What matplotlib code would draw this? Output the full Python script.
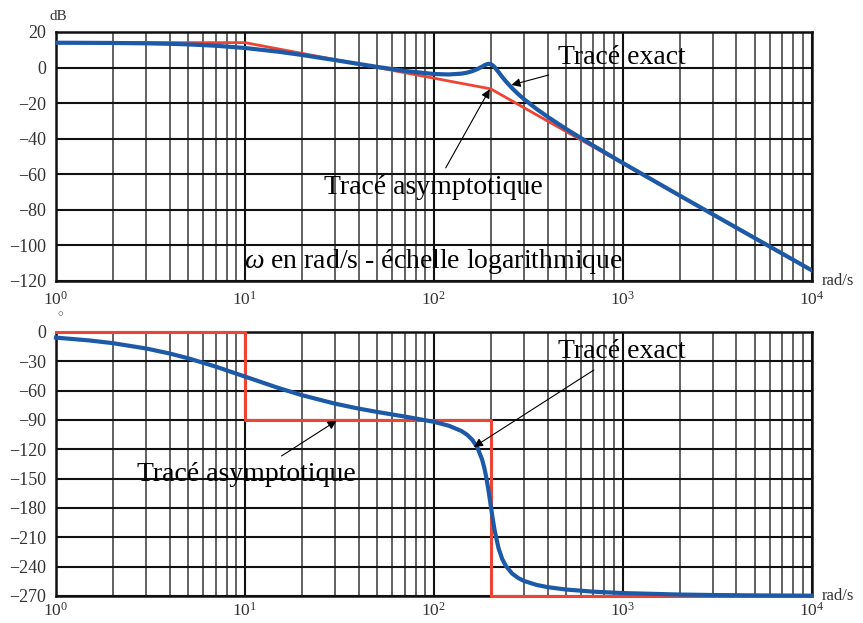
import numpy as np
import matplotlib
matplotlib.use("Agg")
import matplotlib.pyplot as plt
from matplotlib.ticker import LogLocator, NullFormatter, FixedLocator

plt.rcParams['font.family'] = ['Liberation Serif', 'DejaVu Serif']
plt.rcParams['mathtext.fontset'] = 'custom'
plt.rcParams['mathtext.rm'] = 'Liberation Serif'
plt.rcParams['mathtext.it'] = 'Liberation Serif:italic'

# ---- data ----
freq = [1, 1.5, 2, 3, 4, 5, 7, 10, 15, 20, 30, 40, 50, 70, 100, 120, 140, 150,
        160, 170, 180, 185, 190, 195, 200, 205, 210, 220, 230, 240, 260, 280,
        300, 350, 400, 500, 700, 1000, 2000, 3000, 5000, 10000]
gain_exact = [13.94, 13.88, 13.81, 13.61, 13.34, 13.01, 12.26, 10.99, 8.91,
              7.08, 4.17, 2.03, 0.38, -1.90, -3.64, -3.90, -3.44, -2.86,
              -2.03, -0.89, 0.50, 1.21, 1.80, 2.10, 1.93, 1.24, 0.16, -2.54,
              -5.22, -7.63, -11.68, -14.97, -17.75, -23.32, -27.68, -34.44,
              -43.96, -53.63, -71.96, -82.57, -95.90, -113.98]
phase_exact = [-5.77, -8.62, -11.42, -16.87, -22.03, -26.85, -35.39, -45.57,
               -57.17, -64.59, -73.32, -78.35, -81.74, -86.43, -91.88, -95.86,
               -101.26, -105.11, -110.39, -118.12, -130.27, -138.94, -149.82,
               -162.86, -177.14, -191.08, -203.29, -221.07, -232.01, -239.00,
               -247.15, -251.70, -254.59, -258.73, -260.97, -263.41, -265.62,
               -267.04, -268.56, -269.04, -269.43, -269.71]

asym_gain_freq = [1, 10, 200, 10000]
asym_gain = [14, 14, -12, -114]
asym_phase_freq = [1, 10, 10, 200, 200, 10000]
asym_phase = [0, 0, -90, -90, -270, -270]

gain_ticks = [-120, -100, -80, -60, -40, -20, 0, 20]
phase_ticks = [-270, -240, -210, -180, -150, -120, -90, -60, -30, 0]

RED = '#EE4433'
BLUE = '#1C5AA8'
TICKCOL = '#333333'

fig = plt.figure(figsize=(8.63, 6.23), dpi=100)
ax1 = fig.add_axes([0.0649, 0.549, 0.8756, 0.3997])
ax2 = fig.add_axes([0.0649, 0.0434, 0.8756, 0.4237])

for ax, xpad in ((ax1, 7), (ax2, 4.5)):
    ax.set_xscale('log')
    ax.set_xlim(1, 1e4)
    ax.xaxis.set_major_locator(LogLocator(base=10, numticks=10))
    ax.xaxis.set_minor_locator(LogLocator(base=10, subs=np.arange(2, 10), numticks=100))
    ax.xaxis.set_minor_formatter(NullFormatter())
    ax.grid(True, which='major', color='#111111', lw=1.5)
    ax.grid(True, which='minor', axis='x', color='#555555', lw=1.3)
    ax.tick_params(axis='y', which='both', length=0, labelsize=13, colors=TICKCOL, pad=7)
    ax.tick_params(axis='x', which='both', length=0, labelsize=12.5, colors=TICKCOL, pad=xpad)
    for s in ax.spines.values():
        s.set_linewidth(1.8)
        s.set_color('#111111')
    ax.set_axisbelow(True)
    ax.text(1.013, 0.0, 'rad/s', transform=ax.transAxes, ha='left', va='center',
            fontsize=12, color=TICKCOL)

# magnitude
ax1.set_ylim(-120, 20)
ax1.yaxis.set_major_locator(FixedLocator(gain_ticks))
ax1.set_yticklabels([str(v).replace('-', '\u2212') for v in gain_ticks])
ax1.plot(asym_gain_freq, asym_gain, color=RED, lw=2.0, zorder=3)
ax1.plot(freq, gain_exact, color=BLUE, lw=3.0, zorder=4, solid_joinstyle='round')
ax1.text(0.003, 1.061, 'dB', transform=ax1.transAxes, ha='center', va='center',
         fontsize=11, color=TICKCOL)

arrow = dict(arrowstyle='-|>', color='black', lw=0.8, mutation_scale=13,
             shrinkA=0, shrinkB=0)
ax1.text(10**2.997, 5.4, 'Tracé exact', ha='center', va='center', fontsize=20, zorder=6)
ax1.annotate('', xy=(10**2.411, -9.8), xytext=(10**2.608, -4.2), arrowprops=arrow, zorder=6)
ax1.text(10**2.0, -67.7, 'Tracé asymptotique', ha='center', va='center', fontsize=20, zorder=6)
ax1.annotate('', xy=(10**2.296, -12.2), xytext=(10**2.063, -56.4), arrowprops=arrow, zorder=6)
ax1.text(10**2.0, -109.3, r'$\omega$ en rad/s - échelle logarithmique', ha='center',
         va='center', fontsize=20, zorder=6)

# phase
ax2.set_ylim(-270, 0)
ax2.yaxis.set_major_locator(FixedLocator(phase_ticks))
ax2.set_yticklabels([str(v).replace('-', '\u2212') for v in phase_ticks])
ax2.plot(asym_phase_freq, asym_phase, color=RED, lw=2.2, zorder=3, clip_on=False)
ax2.plot(freq, phase_exact, color=BLUE, lw=3.0, zorder=4, clip_on=False)
ax2.text(0.006, 1.068, r'$\circ$', transform=ax2.transAxes, ha='center', va='center',
         fontsize=8, color=TICKCOL)
ax2.text(10**2.997, -20.1, 'Tracé exact', ha='center', va='center', fontsize=20, zorder=6)
ax2.annotate('', xy=(10**2.212, -117.6), xytext=(10**2.847, -38.9), arrowprops=arrow, zorder=6)
ax2.text(10**1.008, -146.2, 'Tracé asymptotique', ha='center', va='center', fontsize=20, zorder=6)
ax2.annotate('', xy=(10**1.485, -90.7), xytext=(10**1.194, -126.8), arrowprops=arrow, zorder=6)

fig.savefig('out.png', dpi=100)
